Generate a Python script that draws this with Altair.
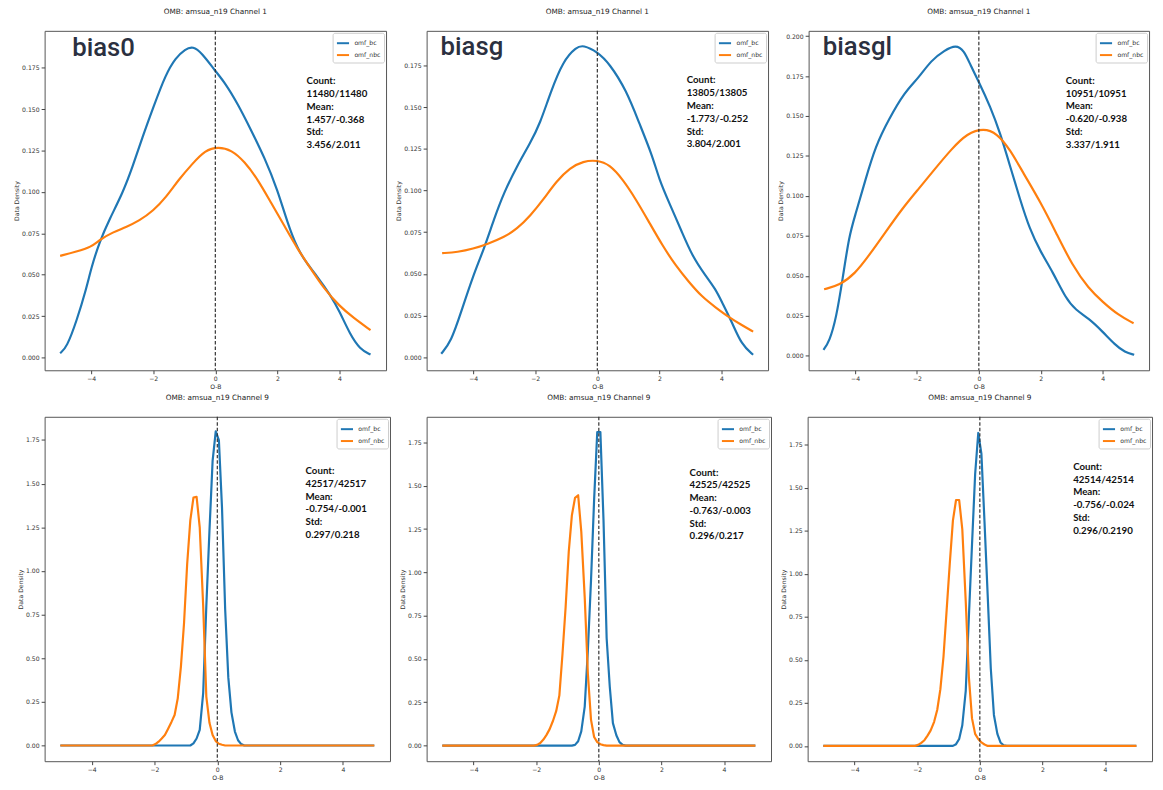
import altair as alt
import pandas as pd

SERIES = ["omf_bc", "omf_nbc"]
COLORS = ["#1f77b4", "#ff7f0e"]
TITLE_CH1 = "OMB: amsua_n19 Channel 1"
TITLE_CH9 = "OMB: amsua_n19 Channel 9"
X_TICKS = [-4, -2, 0, 2, 4]
Y_TICKS_CH1 = [0.0, 0.025, 0.05, 0.075, 0.1, 0.125, 0.15, 0.175]
Y_TICKS_CH1_B = [0.0, 0.025, 0.05, 0.075, 0.1, 0.125, 0.15, 0.175, 0.2]
Y_TICKS_CH9 = [0.0, 0.25, 0.5, 0.75, 1.0, 1.25, 1.5, 1.75]

# ---------------- Channel 1, bias0 ----------------
p1_bc_x = [-5.0, -4.79, -4.47, -4.15, -4.0, -3.73, -3.41, -2.98, -2.66, -2.35, -2.0, -1.6, -1.28, -0.97, -0.72,
           -0.44, 0.0, 0.31, 0.73, 1.16, 1.58, 2.0, 2.32, 2.64, 2.96, 3.28, 3.7, 4.0, 4.34, 4.66, 5.0]
p1_bc_y = [0.0026, 0.006, 0.022, 0.042, 0.054, 0.070, 0.0836, 0.0995, 0.1154, 0.133, 0.151, 0.171, 0.181, 0.1863,
           0.188, 0.184, 0.173, 0.166, 0.153, 0.137, 0.121, 0.1015, 0.0816, 0.0658, 0.0565, 0.049, 0.038, 0.028,
           0.014, 0.005, 0.0018]
p1_nbc_x = [-5.0, -4.47, -4.0, -3.73, -3.3, -2.88, -2.45, -2.0, -1.6, -1.18, -0.75, -0.33, 0.1, 0.52, 0.94, 1.37,
            1.79, 2.22, 2.64, 3.07, 3.49, 4.0, 4.45, 5.0]
p1_nbc_y = [0.0614, 0.064, 0.0667, 0.0711, 0.0757, 0.0787, 0.0826, 0.0886, 0.0965, 0.1075, 0.1168, 0.1253, 0.1273,
            0.1253, 0.1184, 0.1075, 0.0936, 0.0797, 0.0658, 0.0538, 0.0419, 0.031, 0.024, 0.0165]

# ---------------- Channel 1, biasg ----------------
p2_bc_x = [-5.03, -4.71, -4.39, -4.0, -3.65, -3.33, -3.01, -2.59, -2.16, -1.84, -1.52, -1.1, -0.67, -0.46, 0.0,
           0.39, 0.93, 1.35, 1.78, 1.99, 2.31, 2.73, 3.05, 3.48, 3.8, 4.01, 4.33, 4.65, 5.02]
p2_bc_y = [0.002, 0.0093, 0.027, 0.049, 0.065, 0.0828, 0.0987, 0.1146, 0.1285, 0.1404, 0.1583, 0.178, 0.1861,
           0.1873, 0.1832, 0.1762, 0.1603, 0.1404, 0.1206, 0.1067, 0.0928, 0.0749, 0.061, 0.049, 0.0411, 0.0332,
           0.0213, 0.0073, 0.0014]
p2_nbc_x = [-5.0, -4.5, -4.0, -3.54, -3.01, -2.59, -2.16, -1.73, -1.31, -0.88, -0.46, 0.0, 0.39, 0.82, 1.24, 1.67,
            2.1, 2.52, 2.95, 3.37, 3.8, 4.22, 4.65, 5.02]
p2_nbc_y = [0.0624, 0.063, 0.065, 0.0679, 0.0719, 0.0769, 0.0848, 0.0948, 0.1057, 0.1136, 0.1176, 0.1182, 0.1156,
            0.1067, 0.0948, 0.0809, 0.0669, 0.055, 0.0451, 0.0362, 0.030, 0.0242, 0.0193, 0.0153]

# ---------------- Channel 1, biasgl ----------------
p3_bc_x = [-5.02, -4.83, -4.61, -4.4, -4.19, -4.0, -3.66, -3.34, -2.92, -2.39, -1.96, -1.54, -1.11, -0.74, -0.48,
           -0.27, 0.0, 0.37, 0.69, 1.01, 1.33, 1.64, 2.0, 2.39, 2.81, 3.13, 3.55, 4.0, 4.4, 4.72, 5.02]
p3_bc_y = [0.0037, 0.0089, 0.0234, 0.0482, 0.0752, 0.0876, 0.1104, 0.131, 0.1476, 0.1652, 0.1735, 0.1849, 0.1911,
           0.1946, 0.1911, 0.1818, 0.1714, 0.1559, 0.1393, 0.1186, 0.0979, 0.0793, 0.0648, 0.0524, 0.0358, 0.0286,
           0.0234, 0.0151, 0.0068, 0.0021, 0.0006]
p3_nbc_x = [-5.0, -4.5, -4.0, -3.55, -3.02, -2.49, -1.96, -1.43, -0.9, -0.37, 0.16, 0.58, 1.01, 1.43, 2.0, 2.49,
            3.02, 3.55, 4.0, 4.5, 5.0]
p3_nbc_y = [0.0416, 0.0441, 0.0513, 0.0627, 0.0772, 0.0917, 0.1041, 0.1166, 0.129, 0.1393, 0.1424, 0.1393, 0.129,
            0.1145, 0.0959, 0.0772, 0.0565, 0.042, 0.0337, 0.0255, 0.0203]

# ---------------- Channel 9 (sampled curves) ----------------
c9_bc_x = [-5.0, -0.86, -0.76, -0.66, -0.56, -0.45, -0.35, -0.25, -0.15, -0.05, 0.05, 0.15, 0.25, 0.35, 0.45,
           0.56, 0.66, 0.76, 0.86, 5.0]
c9_nbc_x = [-5.0, -2.07, -1.97, -1.87, -1.77, -1.67, -1.57, -1.46, -1.36, -1.26, -1.16, -1.06, -0.96, -0.86, -0.76,
            -0.66, -0.56, -0.45, -0.35, -0.25, -0.15, -0.05, 0.05, 0.15, 0.25, 5.0]

p4_bc_y = [0.0, 0.0, 0.012, 0.04, 0.09, 0.30, 0.80, 1.23, 1.63, 1.80, 1.75, 1.36, 0.78, 0.39, 0.19, 0.08, 0.03,
           0.008, 0.0, 0.0]
p4_nbc_y = [0.0, 0.0, 0.008, 0.022, 0.04, 0.06, 0.095, 0.135, 0.175, 0.27, 0.45, 0.70, 1.04, 1.29, 1.42, 1.425,
            1.25, 0.80, 0.28, 0.13, 0.06, 0.025, 0.01, 0.004, 0.0, 0.0]

p5_bc_y = [0.0, 0.0, 0.004, 0.025, 0.082, 0.225, 0.55, 0.95, 1.42, 1.81, 1.81, 1.30, 0.62, 0.34, 0.13, 0.06, 0.02,
           0.004, 0.0, 0.0]
p5_nbc_y = [0.0, 0.0, 0.004, 0.015, 0.035, 0.062, 0.095, 0.145, 0.20, 0.29, 0.53, 0.80, 1.12, 1.33, 1.43, 1.445,
            1.235, 0.854, 0.416, 0.15, 0.05, 0.02, 0.008, 0.003, 0.0, 0.0]

p6_bc_y = [0.0, 0.0, 0.01, 0.04, 0.12, 0.32, 0.75, 1.17, 1.58, 1.82, 1.70, 1.30, 0.88, 0.45, 0.18, 0.07, 0.02,
           0.004, 0.0, 0.0]
p6_nbc_y = [0.0, 0.0, 0.006, 0.018, 0.033, 0.06, 0.09, 0.14, 0.21, 0.33, 0.52, 0.79, 1.06, 1.31, 1.43, 1.43, 1.26,
            0.84, 0.40, 0.16, 0.07, 0.04, 0.02, 0.008, 0.0, 0.0]

# ---------------- annotations ----------------
STATS = [
    "Count:\n11480/11480\nMean:\n1.457/-0.368\nStd:\n3.456/2.011",
    "Count:\n13805/13805\nMean:\n-1.773/-0.252\nStd:\n3.804/2.001",
    "Count:\n10951/10951\nMean:\n-0.620/-0.938\nStd:\n3.337/1.911",
    "Count:\n42517/42517\nMean:\n-0.754/-0.001\nStd:\n0.297/0.218",
    "Count:\n42525/42525\nMean:\n-0.763/-0.003\nStd:\n0.296/0.217",
    "Count:\n42514/42514\nMean:\n-0.756/-0.024\nStd:\n0.296/0.2190",
]
STATS_X = [2.94, 2.88, 2.81, 2.81, 2.90, 2.98]
STATS_Y = [0.1650, 0.1642, 0.1702, 1.555, 1.559, 1.605]
BIG_LABELS = ["bias0", "biasg", "biasgl"]
BIG_X = [-4.61, -5.05, -5.04]
BIG_Y = [0.1819, 0.1812, 0.188]

FONT = "DejaVu Sans"


def make_df(bx, by, ox, oy):
    return pd.DataFrame({
        "x": list(bx) + list(ox),
        "y": list(by) + list(oy),
        "series": ["omf_bc"] * len(bx) + ["omf_nbc"] * len(ox),
    })


def panel(df, title, ydom, yticks, yfmt, yext, w, h, interp, stats, sx, sy,
          big=None, bgx=None, bgy=None):
    x_enc = alt.X("x:Q",
                  scale=alt.Scale(domain=[-5.5, 5.5], nice=False, zero=False),
                  axis=alt.Axis(values=X_TICKS, title="O-B",
                                labelExpr="replace(datum.label, '-', '\u2212')",
                                tickSize=3.5, labelPadding=1.5, titlePadding=2,
                                grid=False, domain=False))
    y_enc = alt.Y("y:Q",
                  scale=alt.Scale(domain=ydom, nice=False, zero=False),
                  axis=alt.Axis(values=yticks, format=yfmt, title="Data Density",
                                tickSize=3.5, labelPadding=2, titlePadding=3,
                                minExtent=yext, maxExtent=yext,
                                grid=False, domain=False))
    lines = alt.Chart(df).mark_line(strokeWidth=2.2, interpolate=interp, strokeJoin="round").encode(
        x=x_enc, y=y_enc,
        color=alt.Color("series:N",
                        scale=alt.Scale(domain=SERIES, range=COLORS),
                        legend=alt.Legend(title=None, orient="top-right", offset=2,
                                          fillColor="white", strokeColor="#cccccc",
                                          cornerRadius=2, padding=3,
                                          symbolType="stroke", symbolSize=150,
                                          symbolStrokeWidth=2, labelFontSize=6.2,
                                          labelFont=FONT, labelColor="#333333",
                                          rowPadding=0, labelOffset=4)),
    )
    rule = alt.Chart(pd.DataFrame({"x": [0.0]})).mark_rule(
        color="#333333", strokeWidth=1.2, strokeDash=[3.5, 2]).encode(x=x_enc)
    txt = alt.Chart(pd.DataFrame({"x": [sx], "y": [sy], "t": [stats]})).mark_text(
        align="left", baseline="alphabetic", font="Lato", fontWeight="bold",
        fontSize=9.8, lineHeight=12.9, lineBreak="\n", color="#111111").encode(
        x=x_enc, y=y_enc, text="t:N")
    layers = [lines, rule, txt]
    if big is not None:
        bg = alt.Chart(pd.DataFrame({"x": [bgx], "y": [bgy], "t": [big]})).mark_text(
            align="left", baseline="alphabetic", font="Roboto", fontWeight=500,
            fontSize=26, color="#2b3040").encode(x=x_enc, y=y_enc, text="t:N")
        layers.append(bg)
    return alt.layer(*layers).properties(
        width=w, height=h,
        title=alt.TitleParams(title, offset=15, fontSize=7.4, font=FONT,
                              fontWeight="normal", color="#222222"))


p1 = panel(make_df(p1_bc_x, p1_bc_y, p1_nbc_x, p1_nbc_y), TITLE_CH1, [-0.0077, 0.1973],
           Y_TICKS_CH1, ".3f", 22, 345, 343, "basis", STATS[0], STATS_X[0], STATS_Y[0],
           BIG_LABELS[0], BIG_X[0], BIG_Y[0])
p2 = panel(make_df(p2_bc_x, p2_bc_y, p2_nbc_x, p2_nbc_y), TITLE_CH1, [-0.0079, 0.1958],
           Y_TICKS_CH1, ".3f", 22, 345, 343, "basis", STATS[1], STATS_X[1], STATS_Y[1],
           BIG_LABELS[1], BIG_X[1], BIG_Y[1])
p3 = panel(make_df(p3_bc_x, p3_bc_y, p3_nbc_x, p3_nbc_y), TITLE_CH1, [-0.0091, 0.2033],
           Y_TICKS_CH1_B, ".3f", 22, 344, 343, "basis", STATS[2], STATS_X[2], STATS_Y[2],
           BIG_LABELS[2], BIG_X[2], BIG_Y[2])
p4 = panel(make_df(c9_bc_x, p4_bc_y, c9_nbc_x, p4_nbc_y), TITLE_CH9, [-0.09, 1.883],
           Y_TICKS_CH9, ".2f", 18, 349, 348, "linear", STATS[3], STATS_X[3], STATS_Y[3])
p5 = panel(make_df(c9_bc_x, p5_bc_y, c9_nbc_x, p5_nbc_y), TITLE_CH9, [-0.09, 1.898],
           Y_TICKS_CH9, ".2f", 18, 348, 348, "linear", STATS[4], STATS_X[4], STATS_Y[4])
p6 = panel(make_df(c9_bc_x, p6_bc_y, c9_nbc_x, p6_nbc_y), TITLE_CH9, [-0.089, 1.914],
           Y_TICKS_CH9, ".2f", 18, 348, 348, "linear", STATS[5], STATS_X[5], STATS_Y[5])

row1 = alt.hconcat(p1, p2, p3, spacing=8).resolve_scale(
    x="independent", y="independent", color="independent").resolve_legend(color="independent")
row2 = alt.hconcat(p4, p5, p6, spacing=8).resolve_scale(
    x="independent", y="independent", color="independent").resolve_legend(color="independent")

chart = alt.vconcat(row1, row2, spacing=3).resolve_scale(
    x="independent", y="independent", color="independent").resolve_legend(
    color="independent").properties(
    padding={"left": 5, "top": -5, "right": 2, "bottom": 2},
    background="white",
).configure_view(
    stroke="#555555", strokeWidth=1, fill="white"
).configure_axis(
    tickColor="#444444", labelFont=FONT, labelFontSize=6.2, labelColor="#333333",
    titleFont=FONT, titleFontSize=6.2, titleFontWeight="normal", titleColor="#333333",
)

chart.save("out.html", embed_options={"renderer": "svg", "actions": False})
